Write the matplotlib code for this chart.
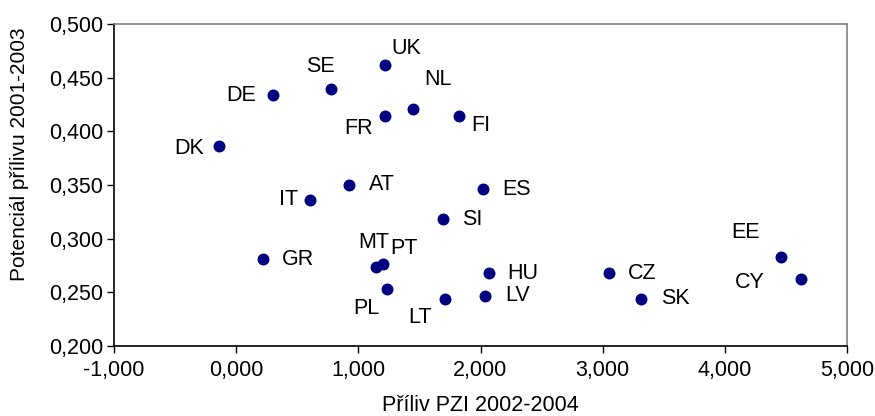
import matplotlib
matplotlib.use('Agg')
import matplotlib.pyplot as plt
from matplotlib.ticker import FuncFormatter

"""DATA"""
Countries = ['UK', 'SE', 'DE', 'NL', 'FR', 'FI', 'DK', 'AT', 'IT', 'ES', 'SI',
             'GR', 'MT', 'PT', 'PL', 'LT', 'HU', 'LV', 'CZ', 'SK', 'EE', 'CY']
Inflow = [1.22, 0.776, 0.304, 1.449, 1.22, 1.826, -0.138, 0.923, 0.601, 2.022, 1.695,
          0.222, 1.141, 1.199, 1.237, 1.709, 2.071, 2.039, 3.053, 3.315, 4.456, 4.624]
Potential = [0.462, 0.439, 0.434, 0.421, 0.414, 0.414, 0.386, 0.350, 0.336, 0.346, 0.318,
             0.281, 0.274, 0.276, 0.253, 0.244, 0.268, 0.247, 0.268, 0.244, 0.283, 0.262]
XTicks = [-1, 0, 1, 2, 3, 4, 5]
YTicks = [0.2, 0.25, 0.3, 0.35, 0.4, 0.45, 0.5]

# label offsets in pixels (dx right, dy down)
Offsets = {'UK': (21, -16), 'SE': (-11, -23), 'DE': (-32, 1), 'NL': (25, -29),
           'FR': (-27, 12), 'FI': (22, 9), 'DK': (-30, 2), 'AT': (33, 0),
           'IT': (-21, -1), 'ES': (33, 0), 'SI': (29, 0), 'GR': (35, 0),
           'MT': (-2, -24), 'PT': (21, -16), 'PL': (-21, 19), 'LT': (-25, 19),
           'HU': (34, 0), 'LV': (32, 0), 'CZ': (33, 0), 'SK': (34, 0),
           'EE': (-35, -24), 'CY': (-51, 3)}

plt.rcParams['font.family'] = ['Liberation Sans', 'DejaVu Sans']
FS = 15.5

fig = plt.figure(figsize=(8.75, 4.16), dpi=100)
ax = fig.add_axes([114/875, 1-346/416, (847-114)/875, (346-24)/416])

ax.scatter(Inflow, Potential, s=74, color='#000080', zorder=3, linewidths=0)

for c, x, y in zip(Countries, Inflow, Potential):
    dx, dy = Offsets[c]
    ax.annotate(c, (x, y), xytext=(dx*0.72, -dy*0.72), textcoords='offset points',
                ha='center', va='center', fontsize=FS, color='black')

ax.set_xlim(-1, 5)
ax.set_ylim(0.2, 0.5)
ax.set_xticks(XTicks)
ax.set_yticks(YTicks)
fmt = FuncFormatter(lambda v, p: ('%.3f' % v).replace('.', ','))
ax.xaxis.set_major_formatter(fmt)
ax.yaxis.set_major_formatter(fmt)
ax.tick_params(direction='out', length=5, width=1, labelsize=FS, color='black')
ax.tick_params(axis='x', pad=5)
ax.tick_params(axis='y', pad=3)

ax.spines['left'].set_color('black')
ax.spines['bottom'].set_color('black')
ax.spines['top'].set_color('#808080')
ax.spines['right'].set_color('#808080')
for s in ax.spines.values():
    s.set_linewidth(1.2)

fig.text(20/875, 1-154/416, 'Potenciál přílivu 2001-2003', rotation=90,
         ha='center', va='center', fontsize=15)
fig.text(480/875, 5/416, 'Příliv PZI 2002-2004', ha='center', va='baseline', fontsize=FS)

fig.savefig('out.png', dpi=100)
